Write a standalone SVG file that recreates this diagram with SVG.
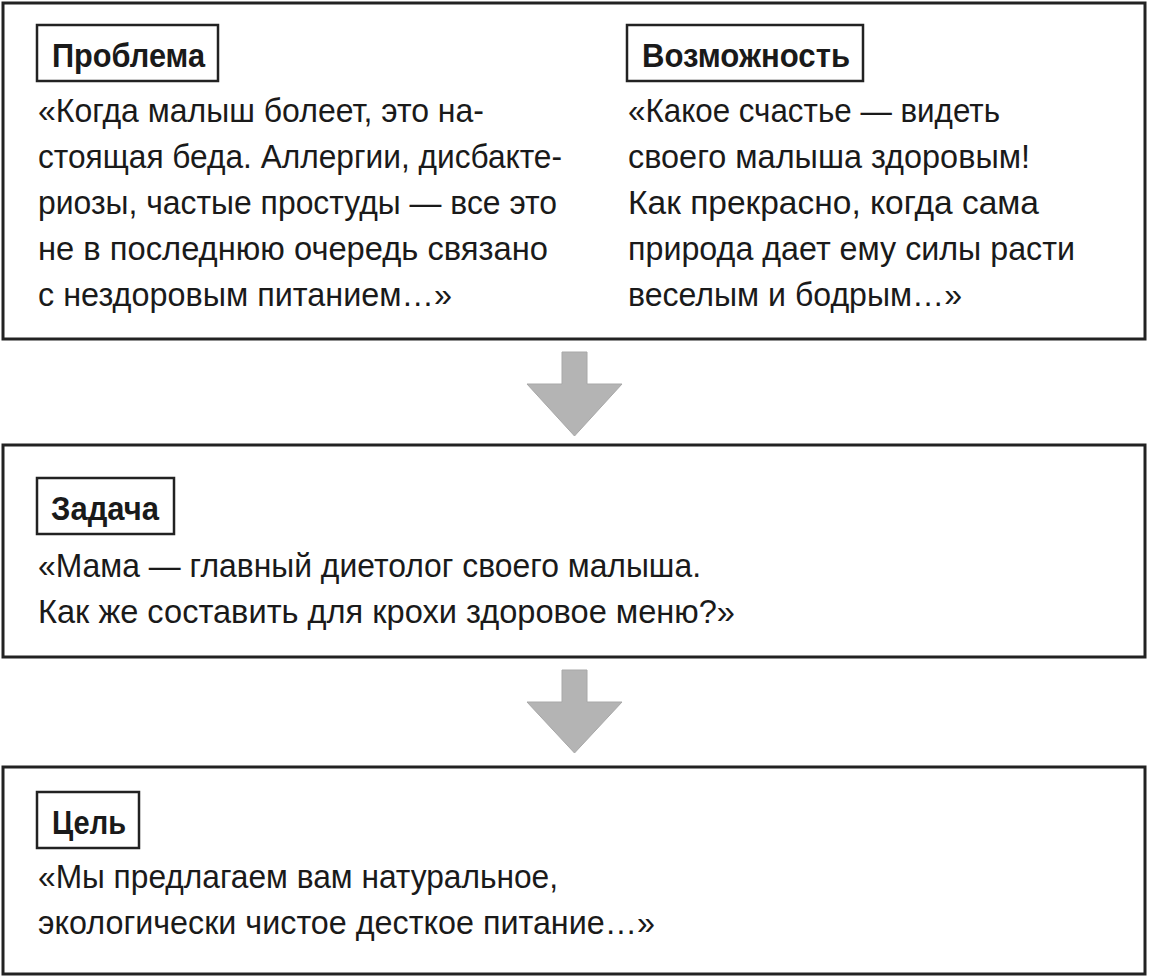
<svg xmlns="http://www.w3.org/2000/svg" width="1150" height="978" viewBox="0 0 1150 978">
<style>
.frame{fill:#fff;stroke:#222;stroke-width:3}
.tag{fill:#fff;stroke:#222;stroke-width:2.5}
.lbl{font-family:"Liberation Sans",Arial,sans-serif;font-weight:bold;font-size:33px;fill:#1a1a1a}
.txt{font-family:"Liberation Sans",Arial,sans-serif;font-size:32.5px;fill:#1a1a1a}
.arr{fill:#b4b4b4;stroke:#a8a8a8;stroke-width:1}
</style>
<rect width="1150" height="978" fill="#fff"/>
<g id="node-top">
<rect class="frame" x="3" y="3" width="1142" height="336"/>
<g id="problem">
<rect class="tag" x="37" y="25" width="181" height="56"/>
<text class="lbl" x="52" y="67" textLength="153" lengthAdjust="spacingAndGlyphs">Проблема</text>
<text class="txt" x="38" y="122" textLength="446" lengthAdjust="spacingAndGlyphs">«Когда малыш болеет, это на-</text>
<text class="txt" x="38" y="168" textLength="524" lengthAdjust="spacingAndGlyphs">стоящая беда. Аллергии, дисбакте-</text>
<text class="txt" x="38" y="214" textLength="519" lengthAdjust="spacingAndGlyphs">риозы, частые простуды — все это</text>
<text class="txt" x="38" y="260" textLength="510" lengthAdjust="spacingAndGlyphs">не в последнюю очередь связано</text>
<text class="txt" x="38" y="306" textLength="414" lengthAdjust="spacingAndGlyphs">с нездоровым питанием…»</text>
</g>
<g id="opportunity">
<rect class="tag" x="627" y="25" width="236" height="56"/>
<text class="lbl" x="642" y="67" textLength="208" lengthAdjust="spacingAndGlyphs">Возможность</text>
<text class="txt" x="628" y="122" textLength="372" lengthAdjust="spacingAndGlyphs">«Какое счастье — видеть</text>
<text class="txt" x="628" y="168" textLength="402" lengthAdjust="spacingAndGlyphs">своего малыша здоровым!</text>
<text class="txt" x="628" y="214" textLength="411" lengthAdjust="spacingAndGlyphs">Как прекрасно, когда сама</text>
<text class="txt" x="628" y="260" textLength="447" lengthAdjust="spacingAndGlyphs">природа дает ему силы расти</text>
<text class="txt" x="628" y="306" textLength="334" lengthAdjust="spacingAndGlyphs">веселым и бодрым…»</text>
</g>
</g>
<g id="node-task">
<rect class="frame" x="3" y="445" width="1142" height="212"/>
<rect class="tag" x="37" y="478" width="137" height="56"/>
<text class="lbl" x="51" y="520" textLength="108" lengthAdjust="spacingAndGlyphs">Задача</text>
<text class="txt" x="38" y="577" textLength="663" lengthAdjust="spacingAndGlyphs">«Мама — главный диетолог своего малыша.</text>
<text class="txt" x="38" y="623" textLength="697" lengthAdjust="spacingAndGlyphs">Как же составить для крохи здоровое меню?»</text>
</g>
<g id="node-goal">
<rect class="frame" x="3" y="767" width="1142" height="207"/>
<rect class="tag" x="37" y="792" width="102" height="56"/>
<text class="lbl" x="52" y="834" textLength="74" lengthAdjust="spacingAndGlyphs">Цель</text>
<text class="txt" x="38" y="888" textLength="520" lengthAdjust="spacingAndGlyphs">«Мы предлагаем вам натуральное,</text>
<text class="txt" x="38" y="934" textLength="617" lengthAdjust="spacingAndGlyphs">экологически чистое десткое питание…»</text>
</g>
<g id="connectors">
<polygon class="arr" points="562,352 587,352 587,384 622,384 574.5,436 527,384 562,384"/>
<polygon class="arr" points="562,670 587,670 587,702 622,702 574.5,753 527,702 562,702"/>
</g>
</svg>
